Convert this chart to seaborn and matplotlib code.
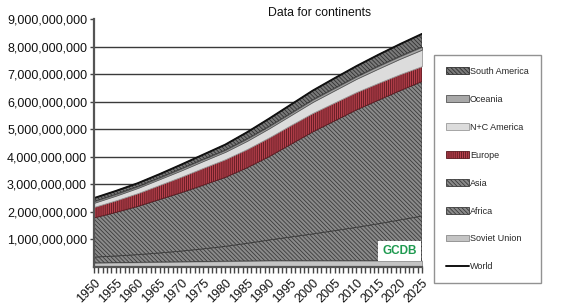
import numpy as np
import pandas as pd
import matplotlib
matplotlib.use("Agg")
import matplotlib.pyplot as plt
import seaborn as sns
from matplotlib.patches import Patch
from matplotlib.lines import Line2D
from matplotlib.ticker import FuncFormatter, MultipleLocator

# ---- data (billions of people) ----
years = [1950, 1955, 1960, 1965, 1970, 1975, 1980, 1985, 1990, 1995,
         2000, 2005, 2010, 2015, 2020, 2025]
soviet_union = [0.15, 0.16, 0.17, 0.18, 0.19, 0.20, 0.21, 0.22, 0.23, 0.23,
                0.23, 0.23, 0.23, 0.23, 0.23, 0.23]
africa = [0.21, 0.24, 0.28, 0.33, 0.39, 0.46, 0.54, 0.64, 0.75, 0.86,
          0.97, 1.09, 1.21, 1.34, 1.48, 1.62]
asia = [1.42, 1.58, 1.75, 1.94, 2.12, 2.31, 2.50, 2.74, 3.02, 3.36,
        3.70, 3.98, 4.26, 4.48, 4.69, 4.88]
europe = [0.40, 0.44, 0.48, 0.53, 0.58, 0.63, 0.66, 0.68, 0.70, 0.70,
          0.69, 0.67, 0.65, 0.63, 0.60, 0.56]
nc_america = [0.15, 0.17, 0.19, 0.21, 0.23, 0.25, 0.27, 0.30, 0.33, 0.36,
              0.40, 0.44, 0.48, 0.52, 0.56, 0.60]
oceania = [0.05, 0.05, 0.05, 0.05, 0.06, 0.06, 0.06, 0.07, 0.07, 0.07,
           0.08, 0.08, 0.08, 0.09, 0.09, 0.10]
south_america = [0.12, 0.12, 0.12, 0.13, 0.15, 0.17, 0.20, 0.24, 0.28, 0.31,
                 0.33, 0.36, 0.38, 0.41, 0.44, 0.47]

series_names = ["Soviet Union", "Africa", "Asia", "Europe", "N+C America",
                "Oceania", "South America"]
series_vals = [soviet_union, africa, asia, europe, nc_america, oceania, south_america]
y_ticks = [1e9, 2e9, 3e9, 4e9, 5e9, 6e9, 7e9, 8e9, 9e9]
x_ticks = list(range(1950, 2026, 5))

df = pd.DataFrame({n: np.array(v) * 1e9 for n, v in zip(series_names, series_vals)})
df["Year"] = years
df["World"] = df[series_names].sum(axis=1)

H = "\\\\\\\\\\\\\\\\"
styles = {
    "Soviet Union": dict(fc="#c4c4c4", hatch=None, ec="#8a8a8a"),
    "Africa": dict(fc="#8a8a8a", hatch=H, ec="#3a3a3a"),
    "Asia": dict(fc="#8a8a8a", hatch=H, ec="#3a3a3a"),
    "Europe": dict(fc="#b8404c", hatch="||||||||", ec="#5a1a20"),
    "N+C America": dict(fc="#dcdcdc", hatch=None, ec="#9a9a9a"),
    "Oceania": dict(fc="#a8a8a8", hatch=None, ec="#555555"),
    "South America": dict(fc="#7a7a7a", hatch=H, ec="#303030"),
}

sns.set_theme(style="white")
plt.rcParams["font.family"] = ["Liberation Sans", "DejaVu Sans"]
plt.rcParams["hatch.linewidth"] = 0.6

fig = plt.figure(figsize=(5.78, 3.04), dpi=100)
ax = fig.add_axes([94 / 578, 1 - 267 / 304, (422 - 94) / 578, (267 - 19) / 304])

ax.set_axisbelow(True)
ax.yaxis.grid(True, color="#3a3a3a", linewidth=1.0)

polys = ax.stackplot(df["Year"], *[df[n] for n in series_names], zorder=2)
for p, n in zip(polys, series_names):
    s = styles[n]
    p.set_facecolor(s["fc"])
    p.set_edgecolor(s["ec"])
    p.set_linewidth(0.6)
    if s["hatch"]:
        p.set_hatch(s["hatch"])

sns.lineplot(data=df, x="Year", y="World", ax=ax, color="#111111",
             linewidth=1.4, zorder=3, legend=False)

ax.set_xlim(1950, 2025)
ax.set_ylim(0, 9e9)
ax.set_yticks(y_ticks)
ax.yaxis.set_major_formatter(FuncFormatter(lambda v, _: f"{int(v):,}"))
ax.set_xticks(x_ticks)
ax.set_xticklabels([str(x) for x in x_ticks], rotation=45, ha="right",
                   rotation_mode="anchor")
ax.xaxis.set_minor_locator(MultipleLocator(1))
ax.tick_params(axis="y", which="major", labelsize=9, length=3, width=1,
               color="#444444", direction="out", left=True, pad=2,
               labelcolor="#111111")
ax.tick_params(axis="x", which="major", labelsize=9, length=4, width=1,
               color="#444444", direction="out", bottom=True, pad=3,
               labelcolor="#111111")
ax.tick_params(axis="x", which="minor", length=4, width=1, color="#444444",
               direction="out", bottom=True)
ax.set_xlabel("")
ax.set_ylabel("")
for side in ["top", "right"]:
    ax.spines[side].set_visible(False)
for side in ["left", "bottom"]:
    ax.spines[side].set_color("#555555")
    ax.spines[side].set_linewidth(1.6)
    ax.spines[side].set_zorder(4)

gl = ax.get_ygridlines()
gl[-1].set_visible(False)

# GCDB watermark
ax.text(0.985, 0.04, "GCDB", transform=ax.transAxes, ha="right", va="bottom",
        fontsize=8.5, fontweight="bold", color="#1f9a50", zorder=5,
        bbox=dict(boxstyle="square,pad=0.35", fc="white", ec="none"))

fig.text(320 / 578, 1 - 13 / 304, "Data for continents", ha="center",
         va="center", fontsize=8.8, color="#111111")

# legend
handles = []
labels = []
for n in reversed(series_names):
    s = styles[n]
    handles.append(Patch(facecolor=s["fc"], edgecolor=s["ec"],
                         hatch=s["hatch"], linewidth=0.6))
    labels.append(n)
handles.append(Line2D([0], [0], color="#111111", linewidth=1.4))
labels.append("World")
leg = fig.legend(handles, labels, loc="upper left",
                 bbox_to_anchor=(434 / 578, 1 - 55 / 304), fontsize=6.5,
                 frameon=True, fancybox=False, edgecolor="#777777",
                 labelspacing=2.1, handlelength=2.6, handleheight=0.7,
                 handletextpad=0.1, borderpad=1.3, borderaxespad=0)
leg.get_frame().set_linewidth(1.0)

fig.savefig("out.png", dpi=100)
